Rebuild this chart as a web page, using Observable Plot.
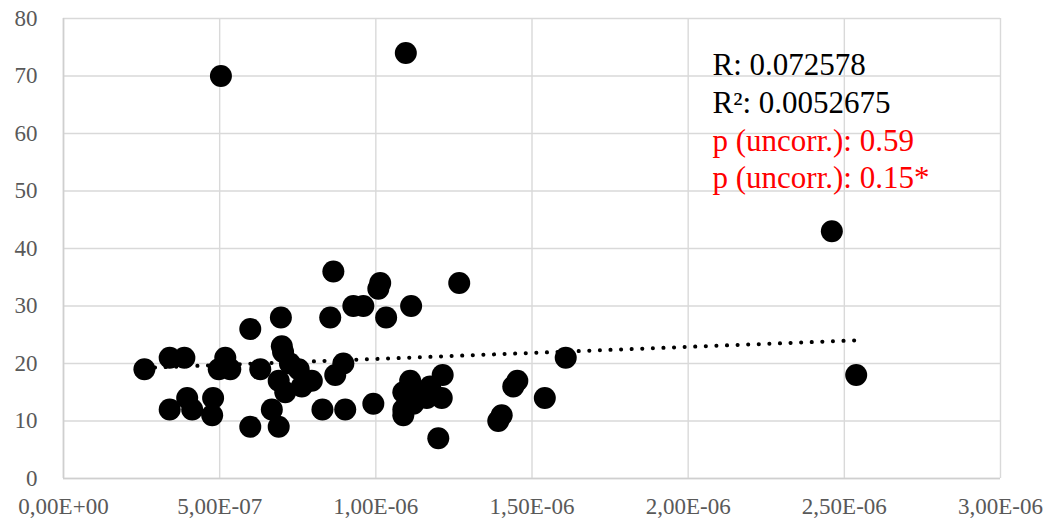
<!DOCTYPE html>
<html>
<head>
<meta charset="utf-8">
<script src="https://cdn.jsdelivr.net/npm/d3@7"></script>
<script src="https://cdn.jsdelivr.net/npm/@observablehq/plot@0.6"></script>
<style>
  html, body { margin: 0; padding: 0; background: #fff; }
  #chart { width: 1051px; height: 523px; }
</style>
</head>
<body>
<div id="chart"></div>
<script>
// x values (units: 1e-6) and y values
const xMicro = [
  0.259, 0.340, 0.387, 0.340, 0.396, 0.412, 0.479, 0.476, 0.504, 0.518,
  0.497, 0.534, 0.598, 0.598, 0.630, 0.667, 0.689, 0.696, 0.699, 0.703,
  0.689, 0.710, 0.725, 0.753, 0.763, 0.795, 0.829, 0.854, 0.864, 0.870,
  0.896, 0.902, 0.928, 0.960, 0.992, 1.008, 1.014, 1.033, 1.096, 1.113,
  1.110, 1.088, 1.088, 1.088, 1.120, 1.163, 1.174, 1.214, 1.211, 1.200,
  1.267, 1.392, 1.403, 1.440, 1.453, 1.541, 1.608, 2.460, 2.538, 1.148
];
const yValues = [
  19, 21, 21, 12, 14, 12, 14, 11, 70, 21,
  19, 19, 26, 9, 19, 12, 9, 28, 23, 22,
  17, 15, 20, 19, 16, 17, 12, 28, 36, 18,
  20, 12, 30, 30, 13, 33, 34, 28, 74, 30,
  17, 15, 12, 11, 13, 14, 16, 18, 14, 7,
  34, 10, 11, 16, 17, 14, 21, 43, 18, 15
];

const xTicks = [0, 5e-7, 1e-6, 1.5e-6, 2e-6, 2.5e-6, 3e-6];
const xTickLabels = ["0,00E+00", "5,00E-07", "1,00E-06", "1,50E-06", "2,00E-06", "2,50E-06", "3,00E-06"];
const yTicks = [0, 10, 20, 30, 40, 50, 60, 70, 80];

const statLines = ["R: 0.072578", "R\u00B2: 0.0052675", "p (uncorr.): 0.59", "p (uncorr.): 0.15*"];
const statColors = ["#000000", "#000000", "#ff0000", "#ff0000"];

const data = xMicro.map((x, i) => ({x: x * 1e-6, y: yValues[i]}));

const gridColor = "#d9d9d9";
const fmtX = d => xTickLabels[xTicks.findIndex(t => Math.abs(t - d) < 1e-12)];

const textMarks = statLines.map((t, i) => Plot.text([t], {
  text: d => d,
  frameAnchor: "top-left",
  textAnchor: "start",
  lineAnchor: "middle",
  dx: 649,
  dy: 46.5 + i * 37.8,
  fontSize: 31,
  fill: statColors[i]
}));

const chart = Plot.plot({
  width: 1051,
  height: 523,
  marginLeft: 63,
  marginRight: 51,
  marginTop: 18,
  marginBottom: 45,
  style: {fontFamily: "'Liberation Serif', serif", background: "#fff"},
  x: {domain: [0, 3e-6]},
  y: {domain: [0, 80]},
  marks: [
    Plot.gridX(xTicks, {stroke: gridColor, strokeOpacity: 1, strokeWidth: 1.4}),
    Plot.gridY(yTicks, {stroke: gridColor, strokeOpacity: 1, strokeWidth: 1.4}),
    Plot.ruleY([0], {stroke: "#cfcfcf", strokeWidth: 1.6}),
    Plot.ruleX([0], {stroke: "#cfcfcf", strokeWidth: 1.6}),
    Plot.axisX(xTicks, {tickSize: 0, tickPadding: 19, tickFormat: fmtX, fontSize: 23, fill: "#595959", label: null}),
    Plot.axisY(yTicks, {tickSize: 0, tickPadding: 26, fontSize: 23, fill: "#595959", label: null}),
    Plot.linearRegressionY(data, {x: "x", y: "y", ci: 0, stroke: "#000", strokeWidth: 4, strokeDasharray: "0.1 10.5", strokeLinecap: "round"}),
    Plot.dot(data, {x: "x", y: "y", r: 11, fill: "#000", stroke: "none"}),
    ...textMarks
  ]
});

document.getElementById("chart").appendChild(chart);
</script>
</body>
</html>
